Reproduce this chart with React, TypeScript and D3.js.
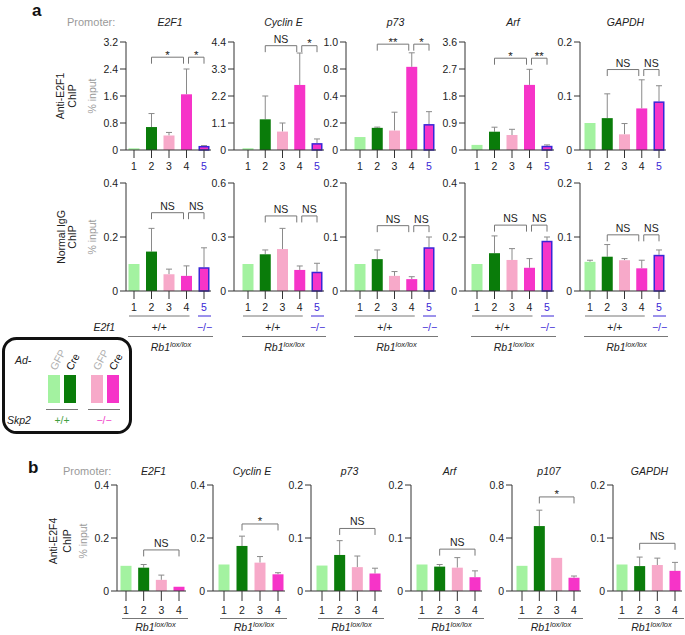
import React from "react";
import * as d3 from "d3";

const FONT = "'Liberation Sans', Arial, Helvetica, sans-serif";

// ---------- data ----------
const barIdsA = ["1", "2", "3", "4", "5"];
const barIdsB = ["1", "2", "3", "4"];
const genesA = ["E2F1", "Cyclin E", "p73", "Arf", "GAPDH"];
const genesB = ["E2F1", "Cyclin E", "p73", "Arf", "p107", "GAPDH"];

// Panel a, Anti-E2F1 ChIP (% input): bar mean and upper end of error bar
const e2f1Mean = [
  [0.05, 0.68, 0.43, 1.65, 0.12],
  [0.07, 1.25, 0.75, 2.65, 0.28],
  [0.12, 0.205, 0.18, 0.77, 0.24],
  [0.17, 0.61, 0.5, 2.17, 0.14],
  [0.05, 0.059, 0.029, 0.077, 0.09],
];
const e2f1Upper = [
  [0.05, 1.08, 0.52, 2.4, 0.13],
  [0.07, 2.2, 1.1, 3.95, 0.45],
  [0.12, 0.212, 0.35, 0.9, 0.355],
  [0.17, 0.76, 0.69, 2.69, 0.17],
  [0.05, 0.104, 0.049, 0.13, 0.119],
];
const e2f1Max = [3.2, 4.4, 1.0, 3.6, 0.2];
const e2f1Ticks = [
  [0, 0.8, 1.6, 2.4, 3.2],
  [0, 1.1, 2.2, 3.3, 4.4],
  [0, 0.25, 0.5, 0.75, 1.0],
  [0, 0.9, 1.8, 2.7, 3.6],
  [0, 0.1, 0.2],
];
const e2f1TickLabels = [
  ["0", "0.8", "1.6", "2.4", "3.2"],
  ["0", "1.1", "2.2", "3.3", "4.4"],
  ["0", "0.2", "0.4", "0.8", "1.0"],
  ["0", "0.9", "1.8", "2.7", "3.6"],
  ["0", "0.1", "0.2"],
];
const e2f1Sig = [["*", "*"], ["NS", "*"], ["**", "*"], ["*", "**"], ["NS", "NS"]];
const e2f1SigAt = [2.75, 4.25, 0.98, 3.06, 0.149];

// Panel a, Normal IgG ChIP
const iggMean = [
  [0.1, 0.146, 0.062, 0.056, 0.088],
  [0.15, 0.204, 0.233, 0.117, 0.107],
  [0.05, 0.059, 0.028, 0.022, 0.081],
  [0.1, 0.14, 0.115, 0.086, 0.186],
  [0.054, 0.0635, 0.057, 0.042, 0.067],
];
const iggUpper = [
  [0.1, 0.232, 0.081, 0.093, 0.16],
  [0.15, 0.228, 0.348, 0.139, 0.154],
  [0.05, 0.076, 0.036, 0.0265, 0.1],
  [0.1, 0.204, 0.157, 0.12, 0.2],
  [0.057, 0.086, 0.06, 0.057, 0.076],
];
const iggMax = [0.4, 0.6, 0.2, 0.4, 0.2];
const iggTicks = [
  [0, 0.2, 0.4],
  [0, 0.3, 0.6],
  [0, 0.1, 0.2],
  [0, 0.2, 0.4],
  [0, 0.1, 0.2],
];
const iggTickLabels = [
  ["0", "0.2", "0.4"],
  ["0", "0.3", "0.6"],
  ["0", "0.1", "0.2"],
  ["0", "0.2", "0.4"],
  ["0", "0.1", "0.2"],
];
const iggSig = [["NS", "NS"], ["NS", "NS"], ["NS", "NS"], ["NS", "NS"], ["NS", "NS"]];
const iggSigAt = [0.29, 0.417, 0.121, 0.244, 0.104];

// Panel b, Anti-E2F4 ChIP
const e2f4Mean = [
  [0.095, 0.088, 0.042, 0.016],
  [0.1, 0.17, 0.107, 0.063],
  [0.048, 0.068, 0.045, 0.033],
  [0.05, 0.046, 0.044, 0.026],
  [0.19, 0.49, 0.25, 0.1],
  [0.05, 0.047, 0.049, 0.038],
];
const e2f4Upper = [
  [0.095, 0.1, 0.06, 0.016],
  [0.1, 0.207, 0.13, 0.069],
  [0.048, 0.095, 0.066, 0.043],
  [0.05, 0.05, 0.063, 0.038],
  [0.19, 0.61, 0.25, 0.113],
  [0.05, 0.064, 0.062, 0.054],
];
const e2f4Max = [0.4, 0.4, 0.2, 0.2, 0.8, 0.2];
const e2f4Ticks = [
  [0, 0.2, 0.4],
  [0, 0.2, 0.4],
  [0, 0.1, 0.2],
  [0, 0.1, 0.2],
  [0, 0.4, 0.8],
  [0, 0.1, 0.2],
];
const e2f4TickLabels = [
  ["0", "0.2", "0.4"],
  ["0", "0.2", "0.4"],
  ["0", "0.1", "0.2"],
  ["0", "0.1", "0.2"],
  ["0", "0.4", "0.8"],
  ["0", "0.1", "0.2"],
];
const e2f4Sig = ["NS", "*", "NS", "NS", "*", "NS"];
const e2f4SigAt = [0.155, 0.253, 0.118, 0.079, 0.71, 0.09];

// ---------- layout ----------
const axisXA = [126, 234, 346, 465, 580];
const firstXA = [134, 248, 360, 477, 590];
const lastXA = [204, 317, 429, 547, 659];
const axisXB = [117, 213, 311, 411, 512, 613];
const firstXB = [126, 224, 322, 422, 522, 622];
const lastXB = [179, 278, 375, 475, 574, 675];

const COLORS = ["#a3f2a0", "#0a7c0a", "#f7a9c9", "#f634c8", "#f634c8"];
const BLUE = "#3a26d6";
const AXIS = "#333";
const ERR = "#8a8a8a";
const BRK = "#777";
const TXT = "#222";

type Br = { a: number; b: number; o1: number; o2: number; label: string };

function Chart(props: {
  ids: string[];
  axisX: number;
  xFirst: number;
  xLast: number;
  yZero: number;
  yTop: number;
  max: number;
  ticks: number[];
  tickLabels: string[];
  mean: number[];
  upper: number[];
  brackets: Br[];
  sigAt: number;
  tickLen: number;
  numDy: number;
}) {
  const p = props;
  const y = d3.scaleLinear().domain([0, p.max]).range([p.yZero, p.yTop]);
  const x = d3.scalePoint<string>().domain(p.ids).range([p.xFirst, p.xLast]);
  const bw = 11;
  const top = y(p.sigAt);
  return (
    <g>
      {p.ids.map((id, i) => {
        const cx = x(id)!;
        const isBlue = i === 4;
        const yt = y(p.mean[i]);
        return (
          <g key={id}>
            {p.upper[i] > p.mean[i] && (
              <g stroke={ERR} strokeWidth={1}>
                <line x1={cx} x2={cx} y1={yt} y2={y(p.upper[i])} />
                <line x1={cx - 3} x2={cx + 3} y1={y(p.upper[i])} y2={y(p.upper[i])} />
              </g>
            )}
            {isBlue ? (
              <rect
                x={cx - bw / 2 + 0.75}
                y={yt + 0.75}
                width={bw - 1.5}
                height={Math.max(0, p.yZero - yt - 0.75)}
                fill={COLORS[i]}
                stroke={BLUE}
                strokeWidth={1.5}
              />
            ) : (
              <rect x={cx - bw / 2} y={yt} width={bw} height={p.yZero - yt} fill={COLORS[i]} />
            )}
          </g>
        );
      })}
      <line x1={p.axisX} x2={p.axisX} y1={p.yZero} y2={p.yTop} stroke={AXIS} strokeWidth={1} />
      {p.ticks.map((t, i) => (
        <g key={i}>
          <line x1={p.axisX - 6} x2={p.axisX} y1={y(t)} y2={y(t)} stroke={AXIS} strokeWidth={1} />
          <text x={p.axisX - 8} y={y(t)} dy="0.36em" textAnchor="end" fontSize={10.5} fill={TXT}>
            {p.tickLabels[i]}
          </text>
        </g>
      ))}
      <line x1={p.axisX} x2={p.xLast + 7} y1={p.yZero} y2={p.yZero} stroke={AXIS} strokeWidth={1} />
      {p.ids.map((id, i) => (
        <g key={"t" + id}>
          <line x1={x(id)} x2={x(id)} y1={p.yZero} y2={p.yZero + p.tickLen} stroke={AXIS} strokeWidth={1} />
          <text x={x(id)} y={p.yZero + p.numDy} textAnchor="middle" fontSize={10.5} fill={i === 4 ? BLUE : TXT}>
            {id}
          </text>
        </g>
      ))}
      {p.brackets.map((b, i) => {
        const x1 = x(p.ids[b.a])! + b.o1;
        const x2 = x(p.ids[b.b])! + b.o2;
        const star = b.label !== "NS";
        return (
          <g key={"b" + i}>
            <path d={`M${x1},${top + 6.5}V${top}H${x2}V${top + 6.5}`} fill="none" stroke={BRK} strokeWidth={1} />
            <text
              x={(x1 + x2) / 2}
              y={star ? top + 1.5 : top - 3}
              textAnchor="middle"
              fontSize={star ? 11.5 : 10.5}
              fill={TXT}
            >
              {b.label}
            </text>
          </g>
        );
      })}
    </g>
  );
}

function Rb1Label({ x, y }: { x: number; y: number }) {
  return (
    <text x={x} y={y} textAnchor="middle" fontSize={10.5} fontStyle="italic" fill={TXT}>
      Rb1
      <tspan fontSize={7.5} dy={-4}>
        lox/lox
      </tspan>
    </text>
  );
}

function RowLabel({ lines, x1, x2, xi, yc }: { lines: string[]; x1: number; x2: number; xi: number; yc: number }) {
  return (
    <g>
      <text transform={`translate(${x1},${yc}) rotate(-90)`} dy="0.36em" textAnchor="middle" fontSize={10.5} fill={TXT}>
        {lines[0]}
      </text>
      <text transform={`translate(${x2},${yc}) rotate(-90)`} dy="0.36em" textAnchor="middle" fontSize={10.5} fill={TXT}>
        {lines[1]}
      </text>
      <text transform={`translate(${xi},${yc}) rotate(-90)`} dy="0.36em" textAnchor="middle" fontSize={10.5} fill="#9a9a9a">
        % input
      </text>
    </g>
  );
}

export default function App() {
  const aTopZero = 150, aTopTop = 42;
  const aBotZero = 291, aBotTop = 183;
  const bZero = 591, bTop = 485;
  return (
    <svg
      width={685}
      height={635}
      viewBox="0 0 685 635"
      style={{ position: "absolute", left: 0, top: 0, display: "block", background: "#fff" }}
      fontFamily={FONT}
    >
      <rect width={685} height={635} fill="#fff" />
      <text x={32} y={16} fontSize={17} fontWeight="bold" fill="#111">a</text>
      <text x={67} y={26} fontSize={11} fill="#9a9a9a">Promoter:</text>
      {genesA.map((g, i) => (
        <text key={g} x={(firstXA[i] + lastXA[i]) / 2 + 1} y={26} textAnchor="middle" fontSize={10.5} fontStyle="italic" fill={TXT}>
          {g}
        </text>
      ))}
      <RowLabel lines={["Anti-E2F1", "ChIP"]} x1={60.5} x2={72} xi={92.5} yc={96} />
      <RowLabel lines={["Normal IgG", "ChIP"]} x1={61} x2={72.5} xi={92.5} yc={237} />
      {genesA.map((g, i) => (
        <Chart
          key={"top" + g}
          ids={barIdsA}
          axisX={axisXA[i]}
          xFirst={firstXA[i]}
          xLast={lastXA[i]}
          yZero={aTopZero}
          yTop={aTopTop}
          max={e2f1Max[i]}
          ticks={e2f1Ticks[i]}
          tickLabels={e2f1TickLabels[i]}
          mean={e2f1Mean[i]}
          upper={e2f1Upper[i]}
          brackets={[
            { a: 1, b: 3, o1: 0, o2: -3, label: e2f1Sig[i][0] },
            { a: 3, b: 4, o1: 2, o2: 0, label: e2f1Sig[i][1] },
          ]}
          sigAt={e2f1SigAt[i]}
          tickLen={8}
          numDy={20}
        />
      ))}
      {genesA.map((g, i) => {
        const x = d3.scalePoint<string>().domain(barIdsA).range([firstXA[i], lastXA[i]]);
        const x0 = x("1")!, x3 = x("4")!, x4 = x("5")!;
        return (
          <g key={"bot" + g}>
            <Chart
              ids={barIdsA}
              axisX={axisXA[i]}
              xFirst={firstXA[i]}
              xLast={lastXA[i]}
              yZero={aBotZero}
              yTop={aBotTop}
              max={iggMax[i]}
              ticks={iggTicks[i]}
              tickLabels={iggTickLabels[i]}
              mean={iggMean[i]}
              upper={iggUpper[i]}
              brackets={[
                { a: 1, b: 3, o1: 0, o2: -3, label: iggSig[i][0] },
                { a: 3, b: 4, o1: 2, o2: 0, label: iggSig[i][1] },
              ]}
              sigAt={iggSigAt[i]}
              tickLen={8}
              numDy={20}
            />
            <line x1={x0 - 5} x2={x3 + 3} y1={316} y2={316} stroke="#777" strokeWidth={1} />
            <line x1={x4 - 6} x2={x4 + 7} y1={316} y2={316} stroke={BLUE} strokeWidth={1} />
            <text x={(x0 - 5 + x3 + 3) / 2} y={331} textAnchor="middle" fontSize={10.5} fill={TXT}>+/+</text>
            <text x={x4 + 0.5} y={331} textAnchor="middle" fontSize={10.5} fill={BLUE}>−/−</text>
            <line x1={x0 - 6} x2={x4 + 9} y1={336.5} y2={336.5} stroke="#777" strokeWidth={1} />
            <Rb1Label x={(x0 + x4) / 2 + 2} y={351} />
          </g>
        );
      })}
      <text x={115} y={331} textAnchor="end" fontSize={10.5} fontStyle="italic" fill={TXT}>E2f1</text>

      <rect x={3.5} y={338.5} width={127} height={94} rx={13} fill="#fff" stroke="#111" strokeWidth={3} />
      <text x={15} y={364} fontSize={10.5} fontStyle="italic" fill={TXT}>Ad-</text>
      <text x={7} y={424} fontSize={10.5} fontStyle="italic" fill={TXT}>Skp2</text>
      {[
        { x: 48, c: COLORS[0], t: "GFP", tc: "#b0b0b0" },
        { x: 64, c: COLORS[1], t: "Cre", tc: "#111" },
        { x: 91, c: COLORS[2], t: "GFP", tc: "#b0b0b0" },
        { x: 107, c: COLORS[3], t: "Cre", tc: "#111" },
      ].map((d, i) => (
        <g key={"lg" + i}>
          <rect x={d.x} y={375} width={12} height={28} fill={d.c} />
          <text transform={`translate(${d.x + 8},${371}) rotate(-62)`} fontSize={10.5} fill={d.tc}>
            {d.t}
          </text>
        </g>
      ))}
      <line x1={46} x2={78} y1={409.5} y2={409.5} stroke="#777" strokeWidth={1} />
      <line x1={88} x2={120} y1={409.5} y2={409.5} stroke="#777" strokeWidth={1} />
      <text x={62} y={424} textAnchor="middle" fontSize={10.5} fill="#3f9f3f">+/+</text>
      <text x={104} y={424} textAnchor="middle" fontSize={10.5} fill="#f040c8">−/−</text>

      <text x={28} y={473} fontSize={17} fontWeight="bold" fill="#111">b</text>
      <text x={63} y={475} fontSize={11} fill="#9a9a9a">Promoter:</text>
      {genesB.map((g, i) => (
        <text key={"gb" + g} x={(firstXB[i] + lastXB[i]) / 2 + 1} y={475} textAnchor="middle" fontSize={10.5} fontStyle="italic" fill={TXT}>
          {g}
        </text>
      ))}
      <RowLabel lines={["Anti-E2F4", "ChIP"]} x1={53} x2={67} xi={83} yc={541} />
      {genesB.map((g, i) => {
        const x = d3.scalePoint<string>().domain(barIdsB).range([firstXB[i], lastXB[i]]);
        const x0 = x("1")!, x3 = x("4")!;
        return (
          <g key={"b" + g}>
            <Chart
              ids={barIdsB}
              axisX={axisXB[i]}
              xFirst={firstXB[i]}
              xLast={lastXB[i]}
              yZero={bZero}
              yTop={bTop}
              max={e2f4Max[i]}
              ticks={e2f4Ticks[i]}
              tickLabels={e2f4TickLabels[i]}
              mean={e2f4Mean[i]}
              upper={e2f4Upper[i]}
              brackets={[{ a: 1, b: 3, o1: 0, o2: 0, label: e2f4Sig[i] }]}
              sigAt={e2f4SigAt[i]}
              tickLen={10}
              numDy={23}
            />
            <line x1={x0 - 4} x2={x3 + 9} y1={618.5} y2={618.5} stroke="#777" strokeWidth={1} />
            <Rb1Label x={(x0 + x3) / 2 + 3} y={631} />
          </g>
        );
      })}
    </svg>
  );
}
